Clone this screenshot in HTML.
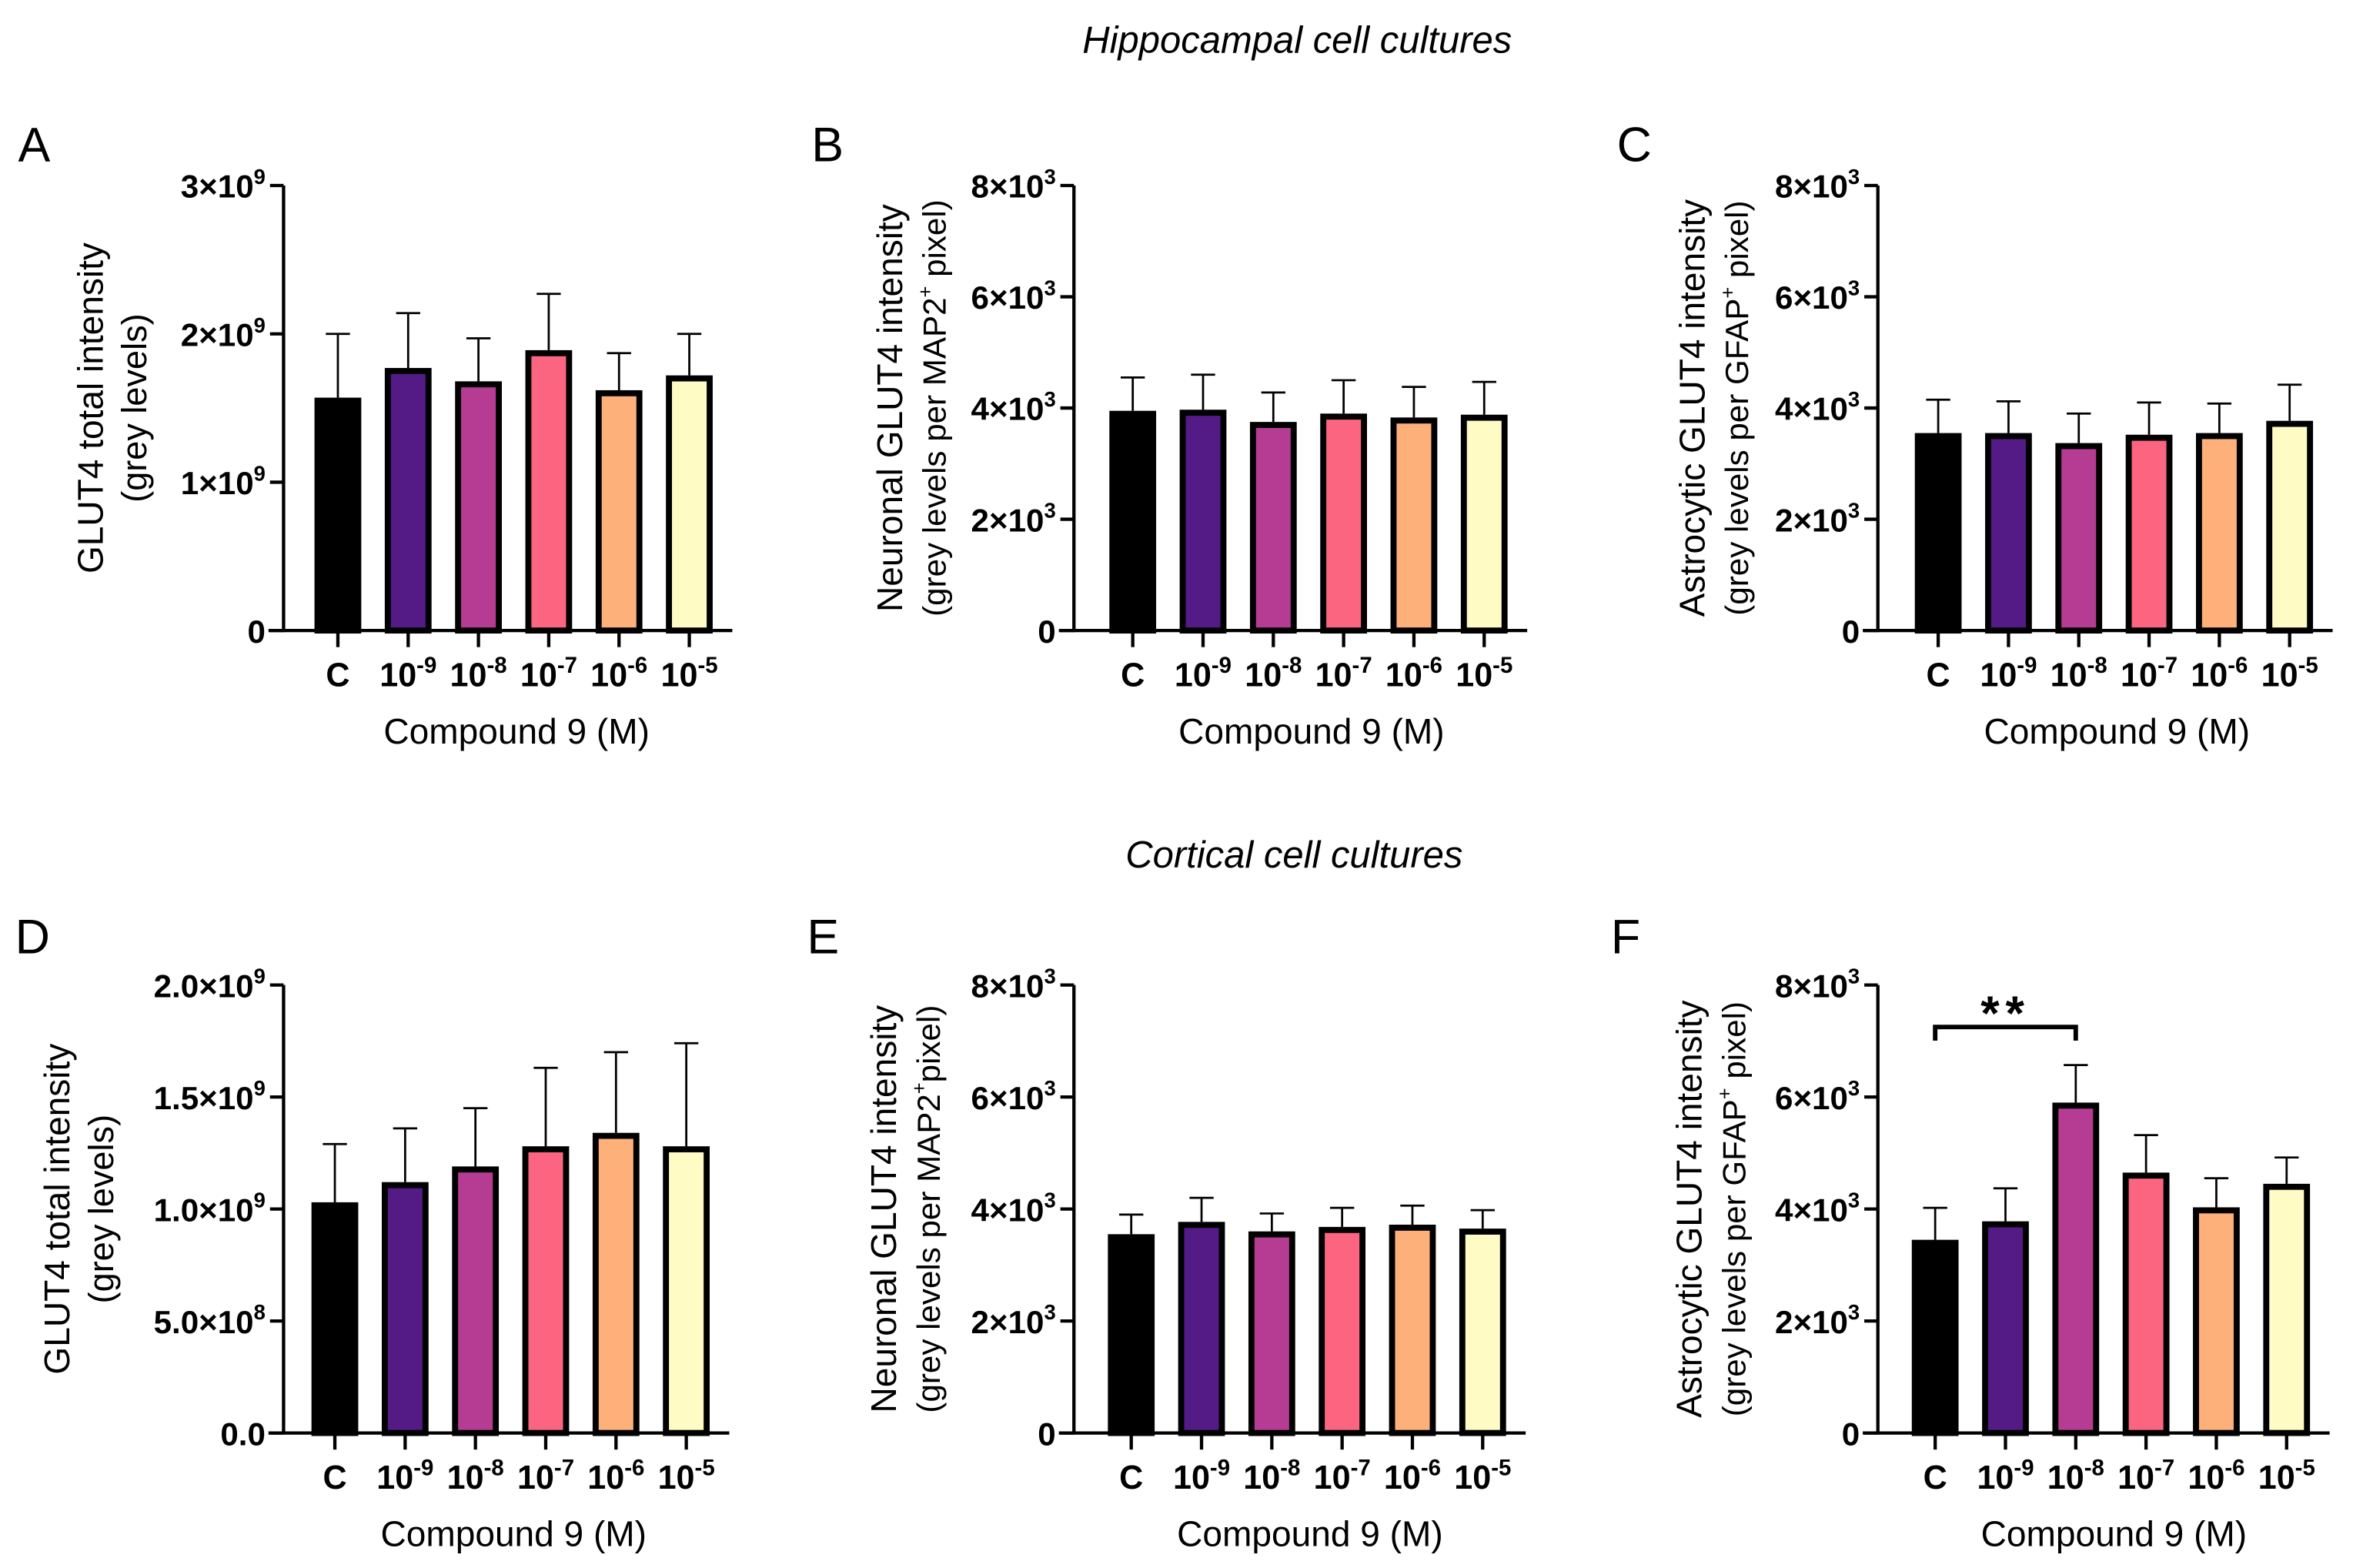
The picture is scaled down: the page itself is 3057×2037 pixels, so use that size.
<!DOCTYPE html>
<html><head><meta charset="utf-8"><style>
html,body{margin:0;padding:0;background:#fff;}
svg{display:block;}
text{font-family:"Liberation Sans",Arial,sans-serif;fill:#000;}
</style></head><body>
<svg id="fig" width="3057" height="2037" viewBox="0 0 1560 1039.5" xmlns="http://www.w3.org/2000/svg">
<text x="860" y="35" text-anchor="middle" font-size="25" font-style="italic">Hippocampal cell cultures</text>
<text x="858" y="575" text-anchor="middle" font-size="25" font-style="italic">Cortical cell cultures</text>
</svg>
<script>
const categories = ["C","-9","-8","-7","-6","-5"];
const colors = ["#000000","#541a85","#b63c93","#fc6580","#fdb07a","#fefbc5"];
const valuesA = [1.57,1.77,1.68,1.89,1.62,1.72];
const errTopA = [2.0,2.14,1.97,2.27,1.87,2.0];
const valuesB = [3.95,3.97,3.75,3.9,3.83,3.88];
const errTopB = [4.55,4.6,4.28,4.5,4.38,4.47];
const valuesC = [3.55,3.55,3.37,3.52,3.55,3.77];
const errTopC = [4.15,4.12,3.9,4.1,4.08,4.42];
const valuesD = [1.03,1.12,1.19,1.28,1.34,1.28];
const errTopD = [1.29,1.36,1.45,1.63,1.70,1.74];
const valuesE = [3.55,3.77,3.6,3.68,3.72,3.65];
const errTopE = [3.9,4.2,3.92,4.02,4.06,3.98];
const valuesF = [3.45,3.78,5.9,4.65,4.03,4.45];
const errTopF = [4.02,4.37,6.57,5.32,4.55,4.92];
const ticksE9 = [0,1,2,3];
const tickLabelsE9 = [["0",""],["1×10","9"],["2×10","9"],["3×10","9"]];
const ticksD = [0,0.5,1.0,1.5,2.0];
const tickLabelsD = [["0.0",""],["5.0×10","8"],["1.0×10","9"],["1.5×10","9"],["2.0×10","9"]];
const ticksE3 = [0,2,4,6,8];
const tickLabelsE3 = [["0",""],["2×10","3"],["4×10","3"],["6×10","3"],["8×10","3"]];

const NS = "http://www.w3.org/2000/svg";
const svg = document.getElementById('fig');
function mk(tag, attrs, parent){const e=document.createElementNS(NS,tag);for(const k in attrs)e.setAttribute(k,attrs[k]);(parent||svg).appendChild(e);return e;}

const panels = [
 {id:'a',letter:'A',lx:12,ly:107,ax:188,top:123,zero:418,max:3,vals:valuesA,errs:errTopA,ticks:ticksE9,tl:tickLabelsE9,t1:"GLUT4 total intensity",t2:"(grey levels)",tx:60,s2:23,sup:null,x0:224},
 {id:'b',letter:'B',lx:538,ly:107,ax:712,top:123,zero:418,max:8,vals:valuesB,errs:errTopB,ticks:ticksE3,tl:tickLabelsE3,t1:"Neuronal GLUT4 intensity",t2:"(grey levels per MAP2",tx:590,s2:21.5,sup:"+",t3:" pixel)",x0:751},
 {id:'c',letter:'C',lx:1072,ly:107,ax:1245,top:123,zero:418,max:8,vals:valuesC,errs:errTopC,ticks:ticksE3,tl:tickLabelsE3,t1:"Astrocytic GLUT4 intensity",t2:"(grey levels per GFAP",tx:1122,s2:21.5,sup:"+",t3:" pixel)",x0:1285},
 {id:'d',letter:'D',lx:10,ly:632,ax:188,top:653,zero:950,max:2,vals:valuesD,errs:errTopD,ticks:ticksD,tl:tickLabelsD,t1:"GLUT4 total intensity",t2:"(grey levels)",tx:38,s2:23,sup:null,x0:222},
 {id:'e',letter:'E',lx:535,ly:632,ax:712,top:653,zero:950,max:8,vals:valuesE,errs:errTopE,ticks:ticksE3,tl:tickLabelsE3,t1:"Neuronal GLUT4 intensity",t2:"(grey levels per MAP2",tx:586,s2:21.5,sup:"+",t3:"pixel)",x0:750},
 {id:'f',letter:'F',lx:1068,ly:632,ax:1245,top:653,zero:950,max:8,vals:valuesF,errs:errTopF,ticks:ticksE3,tl:tickLabelsE3,t1:"Astrocytic GLUT4 intensity",t2:"(grey levels per GFAP",tx:1120,s2:21.5,sup:"+",t3:" pixel)",x0:1283}
];
const step = 46.6, bw = 31;

panels.forEach(p=>{
  const g = mk('g',{});
  
  
  const y = v => p.zero - (v/p.max)*(p.zero-p.top);
  const x = i => p.x0 + i*step;
  const L = mk('text',{x:p.lx,y:p.ly,'font-size':32},g); L.textContent=p.letter;
  
  
  p.vals.forEach((v,i)=>{
    const e = mk('line',{x1:x(i),x2:x(i),y1:y(v),y2:y(p.errs[i]),stroke:'#000','stroke-width':1.4},g);
    
    
    const c = mk('line',{x1:x(i)-8,x2:x(i)+8,y1:y(p.errs[i]),y2:y(p.errs[i]),stroke:'#000','stroke-width':1.4},g);
    
    
    const r = mk('rect',{x:x(i)-bw/2+2,y:y(v)+2,width:bw-4,height:p.zero-y(v)-2,fill:colors[i],stroke:'#000','stroke-width':4},g);
    
    
  });
  const ya = mk('line',{x1:p.ax,x2:p.ax,y1:p.top,y2:p.zero+1,stroke:'#000','stroke-width':2.2},g);
  
  
  const xa = mk('line',{x1:p.ax-10,x2:x(5)+bw/2+13,y1:p.zero,y2:p.zero,stroke:'#000','stroke-width':2.2},g);
  
  
  p.ticks.forEach((t,k)=>{
    const tk = mk('line',{x1:p.ax-9,x2:p.ax,y1:y(t),y2:y(t),stroke:'#000','stroke-width':2.2},g);
    
    
    const lab = p.tl[k];
    const tx = mk('text',{x:p.ax-12,y:y(t)+8,'font-size':21.5,'font-weight':'bold','text-anchor':'end'},g);
    
    
    const s1 = mk('tspan',{},tx); s1.textContent=lab[0];
    if(lab[1]){const s2=mk('tspan',{'font-size':14,dy:-9},tx); s2.textContent=lab[1];}
  });
  categories.forEach((c,i)=>{
    const tk = mk('line',{x1:x(i),x2:x(i),y1:p.zero,y2:p.zero+11,stroke:'#000','stroke-width':2.2},g);
    
    
    const tx = mk('text',{x:x(i),y:p.zero+37,'font-size':22,'font-weight':'bold','text-anchor':'middle'},g);
    
    
    if(c==='C'){tx.textContent='C';}
    else{const a=mk('tspan',{},tx);a.textContent='10';const b=mk('tspan',{'font-size':15,dy:-9},tx);b.textContent=c;}
  });
  const xt = mk('text',{x:(x(0)+x(5))/2+2,y:p.zero+75,'font-size':23.5,'text-anchor':'middle'},g);
  xt.textContent='Compound 9 (M)';
  
  
  const cy = (p.top+p.zero)/2;
  const yt = mk('text',{transform:`translate(${p.tx+8},${cy}) rotate(-90)`,'font-size':23.5,'text-anchor':'middle'},g);
  yt.textContent=p.t1;
  
  
  const yt2 = mk('text',{transform:`translate(${p.tx+37},${cy}) rotate(-90)`,'font-size':p.s2,'text-anchor':'middle'},g);
  
  
  const a1=mk('tspan',{},yt2);a1.textContent=p.t2;
  if(p.sup){const a2=mk('tspan',{'font-size':13,dy:-9},yt2);a2.textContent=p.sup;const a3=mk('tspan',{dy:9},yt2);a3.textContent=p.t3;}
  if(p.id==='f'){
    const by = y(7.25);
    const br = mk('path',{d:`M${x(0)} ${by+9} V${by} H${x(2)} V${by+9}`,fill:'none',stroke:'#000','stroke-width':3},g);
    
    
    const st = mk('text',{x:x(1),y:by+2,'font-size':32,'font-weight':'bold','text-anchor':'middle','letter-spacing':4},g);
    st.textContent='**';
    
    
  }
});
</script>
</body></html>
